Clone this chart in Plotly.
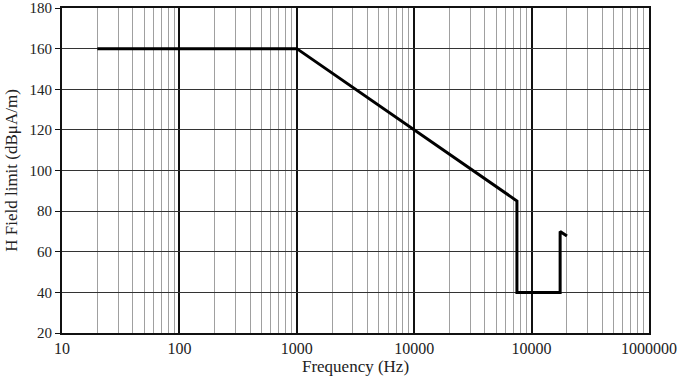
import plotly.graph_objects as go

freq_hz = [20, 1000, 75000, 75000, 175000, 175000, 200000]
h_limit = [160, 160, 85, 40, 40, 70, 67.7]

x_tick_vals = [10, 100, 1000, 10000, 100000, 1000000]
x_tick_text = ["10", "100", "1000", "10000", "10000", "1000000"]
y_tick_vals = [20, 40, 60, 80, 100, 120, 140, 160, 180]

font_family = "Liberation Serif, Times New Roman, serif"

fig = go.Figure()
fig.add_trace(go.Scatter(x=freq_hz, y=h_limit, mode="lines",
                         line=dict(color="black", width=3), showlegend=False))

fig.update_layout(
    width=680, height=380,
    margin=dict(l=62, r=31, t=8, b=47),
    paper_bgcolor="white", plot_bgcolor="white",
    font=dict(family=font_family, size=16, color="#222"),
)
fig.update_xaxes(
    type="log", range=[1, 6], automargin=False,
    tickmode="array", tickvals=x_tick_vals, ticktext=x_tick_text,
    ticklabeloverflow="allow",
    showgrid=True, gridcolor="#111", gridwidth=2,
    minor=dict(dtick="D1", showgrid=True, gridcolor="#a0a0a0", gridwidth=1, ticks=""),
    showline=True, linecolor="#111", linewidth=2, mirror=True,
    ticks="", zeroline=False,
    title=dict(text="Frequency (Hz)", font=dict(family=font_family, size=17), standoff=4),
    tickfont=dict(family=font_family, size=16),
)
fig.update_yaxes(
    range=[20, 180], tickmode="array", tickvals=y_tick_vals, automargin=False,
    ticklabeloverflow="allow",
    showgrid=True, gridcolor="#333", gridwidth=1,
    showline=True, linecolor="#111", linewidth=2, mirror=True,
    ticks="outside", ticklen=5, tickcolor="#111", zeroline=False,
    title=dict(text="H Field limit (dBμA/m)", font=dict(family=font_family, size=17), standoff=8),
    tickfont=dict(family=font_family, size=15),
)

fig.write_html("out.html")
